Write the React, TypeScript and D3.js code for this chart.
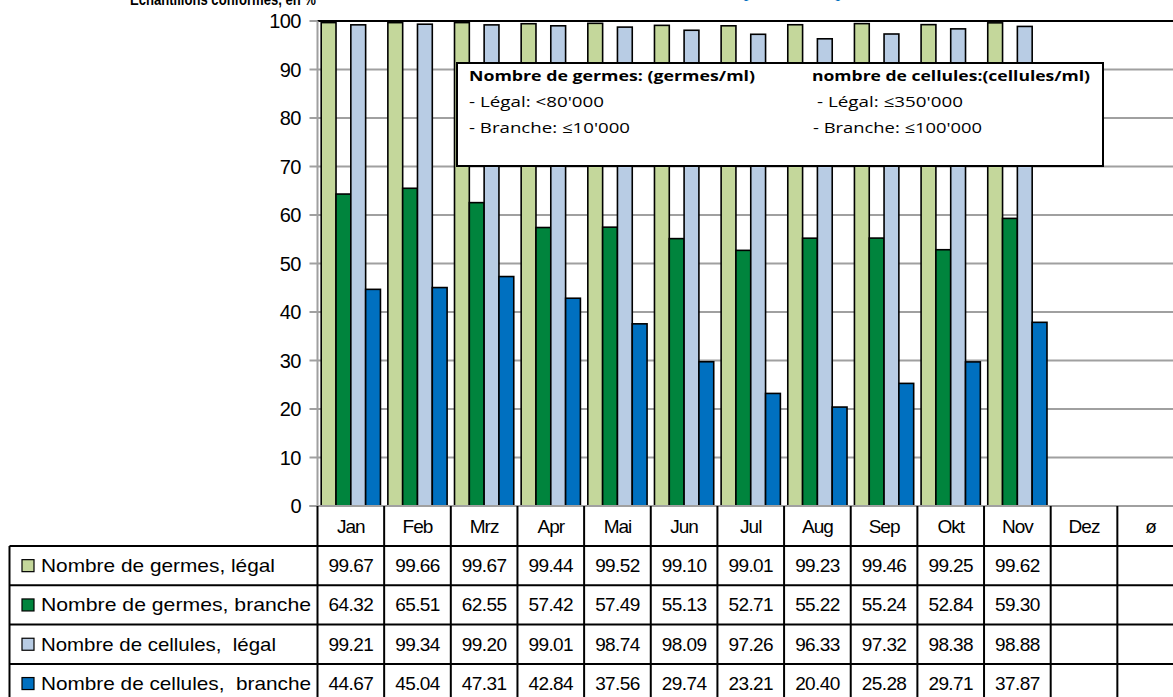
import React, { useEffect } from "react";
import * as d3 from "d3";

const months = ["Jan", "Feb", "Mrz", "Apr", "Mai", "Jun", "Jul", "Aug", "Sep", "Okt", "Nov", "Dez", "ø"];
const seriesNames = [
  "Nombre de germes, légal",
  "Nombre de germes, branche",
  "Nombre de cellules,  légal",
  "Nombre de cellules,  branche",
];
const germesLegal = [99.67, 99.66, 99.67, 99.44, 99.52, 99.10, 99.01, 99.23, 99.46, 99.25, 99.62];
const germesBranche = [64.32, 65.51, 62.55, 57.42, 57.49, 55.13, 52.71, 55.22, 55.24, 52.84, 59.30];
const cellulesLegal = [99.21, 99.34, 99.20, 99.01, 98.74, 98.09, 97.26, 96.33, 97.32, 98.38, 98.88];
const cellulesBranche = [44.67, 45.04, 47.31, 42.84, 37.56, 29.74, 23.21, 20.40, 25.28, 29.71, 37.87];
const seriesValues = [germesLegal, germesBranche, cellulesLegal, cellulesBranche];
const colors = ["#C4D79B", "#00843D", "#B8CCE4", "#0070C0"];
const yTicks = [0, 10, 20, 30, 40, 50, 60, 70, 80, 90, 100];
const labelWidths = [234, 270, 235, 270];

const legendLines = [
  { t: "Nombre de germes: (germes/ml)", x: 469, y: 81, w: 286, bold: true },
  { t: "- Légal: <80'000", x: 469, y: 107, w: 135, bold: false },
  { t: "- Branche: ≤10'000", x: 469, y: 133, w: 161, bold: false },
  { t: "nombre de cellules:(cellules/ml)", x: 812, y: 81, w: 278, bold: true },
  { t: "- Légal: ≤350'000", x: 817, y: 107, w: 146, bold: false },
  { t: "- Branche: ≤100'000", x: 813, y: 133, w: 169, bold: false },
];

const W = 1173;
const H = 697;
const plotLeft = 317.5;
const plotRight = 1184;
const plotTop = 21;
const plotBottom = 506;
const tableTop = 546;
const rowH = 39.3;
const tableLeft = 9.5;

export default function App() {
  useEffect(() => {
    document.body.style.margin = "0";
  }, []);

  const x = d3.scaleBand<string>().domain(months).range([plotLeft, plotRight]).paddingInner(0).paddingOuter(0);
  const xi = d3.scaleBand<string>().domain(seriesNames).range([0, x.bandwidth()]).paddingInner(0).paddingOuter(0.25);
  const y = d3.scaleLinear().domain([0, 100]).range([plotBottom, plotTop]);

  const font = "'Liberation Sans', Arial, sans-serif";
  const calibri = "'Open Sans', 'Noto Sans', sans-serif";

  return (
    <svg width={W} height={H} style={{ display: "block", background: "#fff" }} fontFamily={font}>
      {/* title (cropped at top) */}
      <text x={130} y={5} fontSize={17} fontWeight="bold" textLength={186} lengthAdjust="spacingAndGlyphs" fill="#000">
        Echantillons conformes, en %
      </text>
      <text x={736} y={-2} fontSize={17} fill="#0070C0" textLength={112} lengthAdjust="spacingAndGlyphs">
        (2013)
      </text>

      {/* gridlines */}
      {yTicks.map((t) => (
        <g key={t}>
          {t > 0 && t < 100 && (
            <line x1={plotLeft} x2={W} y1={y(t)} y2={y(t)} stroke="#A0A0A0" strokeWidth={2} />
          )}
          <line x1={plotLeft - 8} x2={plotLeft} y1={y(t)} y2={y(t)} stroke="#A0A0A0" strokeWidth={2} />
          <text x={301} y={y(t)} fontSize={20} textAnchor="end" dominantBaseline="central" fill="#000" letterSpacing={-0.5}>
            {t}
          </text>
        </g>
      ))}
      <line x1={plotLeft} x2={W} y1={plotTop} y2={plotTop} stroke="#000" strokeWidth={2} />
      <line x1={plotLeft} x2={plotLeft} y1={plotTop} y2={plotBottom} stroke="#A0A0A0" strokeWidth={2} />

      {/* bars */}
      {seriesValues.map((vals, si) =>
        vals.map((v, mi) => (
          <rect
            key={`${si}-${mi}`}
            x={(x(months[mi]) as number) + (xi(seriesNames[si]) as number)}
            y={y(v)}
            width={xi.bandwidth()}
            height={y(0) - y(v)}
            fill={colors[si]}
            stroke="#000"
            strokeWidth={1.6}
          />
        ))
      )}
      <line x1={plotLeft - 8} x2={W} y1={plotBottom} y2={plotBottom} stroke="#A0A0A0" strokeWidth={2} />

      {/* legend box */}
      <rect x={457} y={63} width={646} height={103} fill="#fff" stroke="#000" strokeWidth={2} />
      {legendLines.map((l, i) => (
        <text
          key={i}
          x={l.x}
          y={l.y}
          fontFamily={calibri}
          fontSize={15}
          fontWeight={l.bold ? "bold" : "normal"}
          textLength={l.w}
          lengthAdjust="spacingAndGlyphs"
          fill="#000"
        >
          {l.t}
        </text>
      ))}

      {/* category header row */}
      {months.map((m) => (
        <text
          key={m}
          x={(x(m) as number) + x.bandwidth() / 2}
          y={526}
          fontSize={19}
          textAnchor="middle"
          dominantBaseline="central"
          letterSpacing={-1}
          fill="#000"
        >
          {m}
        </text>
      ))}

      {/* data table */}
      {seriesNames.map((s, si) => {
        const rowY = tableTop + si * rowH;
        return (
          <g key={s}>
            <rect x={22} y={rowY + rowH / 2 - 6} width={12} height={12} fill={colors[si]} stroke="#000" strokeWidth={1.2} />
            <text
              x={41}
              y={rowY + rowH / 2}
              fontSize={19}
              dominantBaseline="central"
              textLength={labelWidths[si]}
              lengthAdjust="spacingAndGlyphs"
              fill="#000"
              style={{ whiteSpace: "pre" }}
            >
              {s}
            </text>
            {seriesValues[si].map((v, mi) => (
              <text
                key={mi}
                x={(x(months[mi]) as number) + x.bandwidth() / 2}
                y={rowY + rowH / 2}
                fontSize={19}
                textAnchor="middle"
                dominantBaseline="central"
                letterSpacing={-0.6}
                fill="#000"
              >
                {v.toFixed(2)}
              </text>
            ))}
          </g>
        );
      })}

      {/* table grid lines */}
      {d3.range(5).map((i) => (
        <line
          key={`h${i}`}
          x1={tableLeft}
          x2={W}
          y1={tableTop + i * rowH}
          y2={tableTop + i * rowH}
          stroke="#000"
          strokeWidth={2}
        />
      ))}
      <line x1={tableLeft} x2={tableLeft} y1={tableTop} y2={H} stroke="#000" strokeWidth={2} />
      {months.map((m) => (
        <line
          key={`v${m}`}
          x1={x(m) as number}
          x2={x(m) as number}
          y1={plotBottom}
          y2={H}
          stroke="#000"
          strokeWidth={2}
        />
      ))}
    </svg>
  );
}
